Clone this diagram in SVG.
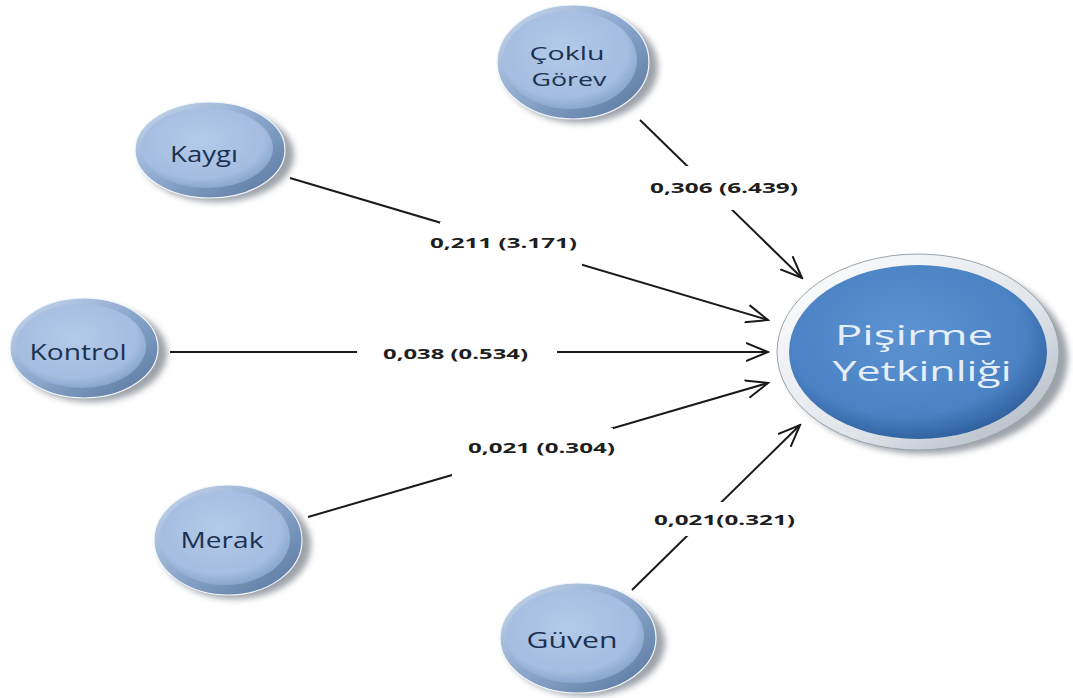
<svg xmlns="http://www.w3.org/2000/svg" width="1073" height="698" viewBox="0 0 1073 698">
<defs>
<style>
.edge{stroke:#1a1a1a;stroke-width:2;fill:none;marker-end:url(#arr)}
.lblbg{fill:#ffffff}
.lbl{font-family:"Open Sans","DejaVu Sans",sans-serif;font-weight:bold;font-size:15px;fill:#1e1e1e}
.ntext{font-family:"Open Sans","Noto Sans",sans-serif;font-size:21px;fill:#1b3152;text-anchor:middle}
.ntext2{font-family:"Open Sans","Noto Sans",sans-serif;font-size:19px;fill:#1b3152;text-anchor:middle}
.btext{font-family:"Open Sans","Noto Sans",sans-serif;font-size:28px;fill:#e6eef8;text-anchor:middle}
.shadow{fill:#7d838c;filter:url(#blur);opacity:0.75}
.outer{fill:url(#gOuter);stroke:#f2f6fb;stroke-width:1.2}
.inner{fill:url(#gInner)}
.bouter{fill:url(#gBOuter);stroke:#9aa3ad;stroke-width:1}
.binner{fill:url(#gBInner)}
</style>
<filter id="blur" x="-20%" y="-20%" width="140%" height="140%"><feGaussianBlur stdDeviation="3"/></filter>
<linearGradient id="gOuter" x1="0" y1="0" x2="1" y2="1">
<stop offset="0" stop-color="#cddcef"/>
<stop offset="0.5" stop-color="#8aa6cc"/>
<stop offset="1" stop-color="#55739b"/>
</linearGradient>
<radialGradient id="gInner" cx="0.45" cy="0.4" r="0.6">
<stop offset="0" stop-color="#b4cae8"/>
<stop offset="0.8" stop-color="#a4bde0"/>
<stop offset="1" stop-color="#8aa7cf"/>
</radialGradient>
<linearGradient id="gBOuter" x1="0" y1="0" x2="1" y2="1">
<stop offset="0" stop-color="#ffffff"/>
<stop offset="0.6" stop-color="#dfe4ea"/>
<stop offset="1" stop-color="#a7b0ba"/>
</linearGradient>
<radialGradient id="gBInner" cx="0.45" cy="0.4" r="0.62">
<stop offset="0" stop-color="#5b93d2"/>
<stop offset="0.75" stop-color="#4a82c4"/>
<stop offset="1" stop-color="#2f5f9c"/>
</radialGradient>
<marker id="arr" markerUnits="userSpaceOnUse" viewBox="0 0 24 20" markerWidth="24" markerHeight="20" refX="22" refY="10" orient="auto">
<path d="M0,1 L22,10 L0,19" fill="none" stroke="#1a1a1a" stroke-width="2"/>
</marker>
</defs>
<rect width="1073" height="698" fill="#ffffff"/>

<g id="connectors">
<line class="edge" x1="640" y1="120" x2="802" y2="278"/>
<line class="edge" x1="290" y1="178" x2="768" y2="320"/>
<line class="edge" x1="170" y1="352" x2="768" y2="352"/>
<line class="edge" x1="308" y1="517" x2="768" y2="383"/>
<line class="edge" x1="632" y1="590" x2="800" y2="425"/>
<rect class="lblbg" x="645" y="166" width="158" height="44"/>
<rect class="lblbg" x="440" y="222" width="142" height="44"/>
<rect class="lblbg" x="357" y="336" width="200" height="34"/>
<rect class="lblbg" x="452" y="428" width="161" height="48"/>
<rect class="lblbg" x="648" y="502" width="155" height="34"/>
<text class="lbl" x="650" y="193" textLength="148" lengthAdjust="spacingAndGlyphs">0,306 (6.439)</text>
<text class="lbl" x="430" y="248" textLength="147" lengthAdjust="spacingAndGlyphs">0,211 (3.171)</text>
<text class="lbl" x="383" y="359" textLength="145" lengthAdjust="spacingAndGlyphs">0,038 (0.534)</text>
<text class="lbl" x="468" y="453" textLength="147" lengthAdjust="spacingAndGlyphs">0,021 (0.304)</text>
<text class="lbl" x="654" y="525" textLength="141" lengthAdjust="spacingAndGlyphs">0,021(0.321)</text>
</g>

<g id="node-coklu">
<ellipse class="shadow" cx="580" cy="67" rx="78" ry="56"/>
<ellipse class="outer" cx="573" cy="62" rx="76" ry="57"/>
<ellipse class="inner" cx="570" cy="60" rx="67" ry="49"/>
<text class="ntext2" x="567" y="60" textLength="75" lengthAdjust="spacingAndGlyphs">Çoklu</text>
<text class="ntext2" x="569" y="86" textLength="75" lengthAdjust="spacingAndGlyphs">Görev</text>
</g>

<g id="node-kaygi">
<ellipse class="shadow" cx="217" cy="155" rx="77" ry="47"/>
<ellipse class="outer" cx="210" cy="150" rx="75" ry="48"/>
<ellipse class="inner" cx="207" cy="148" rx="66" ry="40"/>
<text class="ntext" x="204" y="162" textLength="68" lengthAdjust="spacingAndGlyphs">Kaygı</text>
</g>

<g id="node-kontrol">
<ellipse class="shadow" cx="91" cy="353" rx="76" ry="49"/>
<ellipse class="outer" cx="84" cy="348" rx="74" ry="50"/>
<ellipse class="inner" cx="81" cy="346" rx="65" ry="42"/>
<text class="ntext" x="78" y="360" textLength="97" lengthAdjust="spacingAndGlyphs">Kontrol</text>
</g>

<g id="node-merak">
<ellipse class="shadow" cx="235" cy="545" rx="76" ry="54"/>
<ellipse class="outer" cx="228" cy="540" rx="74" ry="55"/>
<ellipse class="inner" cx="225" cy="538" rx="65" ry="47"/>
<text class="ntext" x="222" y="548" textLength="83" lengthAdjust="spacingAndGlyphs">Merak</text>
</g>

<g id="node-guven">
<ellipse class="shadow" cx="585" cy="643" rx="80" ry="53"/>
<ellipse class="outer" cx="578" cy="638" rx="78" ry="55"/>
<ellipse class="inner" cx="575" cy="636" rx="69" ry="47"/>
<text class="ntext" x="572" y="648" textLength="91" lengthAdjust="spacingAndGlyphs">Güven</text>
</g>

<g id="node-pisirme">
<ellipse class="shadow" cx="926" cy="358" rx="142" ry="96"/>
<ellipse class="bouter" cx="918" cy="352" rx="141" ry="98"/>
<ellipse class="binner" cx="918" cy="352" rx="129" ry="87"/>
<text class="btext" x="914" y="345" textLength="158" lengthAdjust="spacingAndGlyphs">Pişirme</text>
<text class="btext" x="922" y="381" textLength="179" lengthAdjust="spacingAndGlyphs">Yetkinliği</text>
</g>
</svg>
